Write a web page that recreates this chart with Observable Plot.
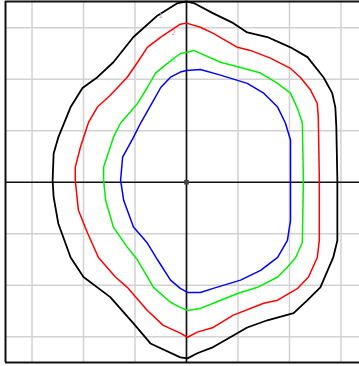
<!DOCTYPE html>
<html>
<head>
<meta charset="utf-8">
<script src="https://cdn.jsdelivr.net/npm/d3@7"></script>
<script src="https://cdn.jsdelivr.net/npm/@observablehq/plot@0.6"></script>
<style>
  html, body { margin: 0; padding: 0; background: #fff; }
  #chart svg { display: block; }
</style>
</head>
<body>
<div id="chart"></div>
<script>
// Contour curves (grid unit = 1), traced clockwise from top
const curve1 = [
  [0,3.51],[0.14,3.48],[0.52,3.28],[0.91,3.09],[1.18,2.91],[1.57,2.82],[2.02,2.62],[2.35,2.43],
  [2.66,2.04],[2.83,1.73],[2.89,1.46],[2.91,1.07],[2.93,0.04],[2.93,-1.13],[2.85,-1.46],[2.60,-2.04],
  [2.35,-2.29],[2.08,-2.54],[1.57,-2.68],[1.18,-2.82],[0.85,-3.01],[0.52,-3.20],[0.21,-3.32],[0.02,-3.42],
  [-0.12,-3.40],[-0.70,-3.13],[-1.03,-2.74],[-1.48,-2.23],[-2.00,-1.84],[-2.25,-1.46],[-2.49,-0.80],
  [-2.58,-0.29],[-2.60,0.04],[-2.58,0.56],[-2.49,0.87],[-2.25,1.46],[-2.02,1.83],[-1.73,2.04],
  [-1.42,2.33],[-1.03,2.82],[-0.56,3.24],[-0.17,3.48]
];
const curve2 = [
  [0,3.09],[0.27,3.01],[0.52,2.89],[0.99,2.62],[1.24,2.56],[1.63,2.41],[2.02,2.21],[2.21,2.04],
  [2.41,1.79],[2.54,1.53],[2.56,1.26],[2.58,0.04],[2.58,-1.13],[2.54,-1.46],[2.37,-1.84],[2.16,-2.06],
  [1.77,-2.29],[1.50,-2.35],[0.91,-2.58],[0.52,-2.82],[0.21,-2.91],[0.02,-3.01],[-0.12,-2.93],
  [-0.45,-2.78],[-0.76,-2.49],[-1.15,-2.04],[-1.38,-1.84],[-1.71,-1.46],[-1.92,-0.99],[-2.10,-0.54],
  [-2.16,0.04],[-2.16,0.29],[-2.06,0.68],[-1.90,1.17],[-1.73,1.46],[-1.48,1.69],[-1.15,2.04],
  [-0.95,2.33],[-0.76,2.62],[-0.50,2.82],[-0.12,3.07]
];
const curve3 = [
  [0,2.52],[0.14,2.56],[0.66,2.33],[1.05,2.23],[1.44,2.12],[1.77,1.92],[2.02,1.73],[2.17,1.40],
  [2.25,1.15],[2.27,0.04],[2.25,-1.17],[2.12,-1.46],[1.96,-1.65],[1.77,-1.84],[1.38,-2.04],[0.99,-2.16],
  [0.52,-2.35],[0.27,-2.45],[0.02,-2.49],[-0.12,-2.43],[-0.31,-2.33],[-0.64,-2.04],[-0.95,-1.51],
  [-1.15,-1.26],[-1.42,-0.87],[-1.57,-0.35],[-1.61,0.04],[-1.61,0.29],[-1.42,0.87],[-1.28,1.15],
  [-0.95,1.53],[-0.76,1.84],[-0.60,2.12],[-0.37,2.31],[-0.12,2.50]
];
const curve4 = [
  [0,2.17],[0.27,2.19],[0.66,2.08],[1.18,1.92],[1.50,1.73],[1.77,1.46],[1.92,1.15],[2.02,0.82],
  [2.02,0.04],[2.02,-0.74],[1.96,-1.13],[1.77,-1.46],[1.44,-1.71],[1.05,-1.90],[0.52,-2.06],[0.27,-2.14],
  [0.02,-2.14],[-0.12,-2.06],[-0.31,-1.90],[-0.56,-1.51],[-0.76,-1.18],[-1.03,-0.87],[-1.22,-0.35],
  [-1.28,0.04],[-1.24,0.49],[-1.03,0.87],[-0.89,1.15],[-0.64,1.59],[-0.50,1.84],[-0.31,2.04],[-0.12,2.14]
];
const curveColors = ["#000000", "#ff0000", "#00ee00", "#0000ff"];
const labelText = ["1", "2", "3"];
const labelX = [-0.50, -0.25, -0.25];
const labelY = [3.24, 2.91, 2.37];
const labelColors = ["#8f9fc8", "#ff8c8c", "#80e080"];
const gridTicks = [-3, -2, -1, 0, 1, 2, 3];
const xDomain = [-3.515, 3.36];
const yDomain = [-3.5, 3.51];

const curves = [curve1, curve2, curve3, curve4];
const labels = labelText.map((t, i) => ({t, x: labelX[i], y: labelY[i], c: labelColors[i]}));

const chart = Plot.plot({
  width: 359,
  height: 366,
  marginLeft: 5,
  marginRight: 0,
  marginTop: 1,
  marginBottom: 4,
  x: {domain: xDomain, axis: null},
  y: {domain: yDomain, axis: null},
  marks: [
    Plot.ruleX(gridTicks.filter(d => d !== 0), {stroke: "#d2d2d2", strokeWidth: 1.5}),
    Plot.ruleY(gridTicks.filter(d => d !== 0), {stroke: "#d2d2d2", strokeWidth: 1.5}),
    Plot.ruleX([xDomain[0]], {stroke: "#111", strokeWidth: 2}),
    Plot.ruleY([yDomain[0], yDomain[1]], {stroke: "#111", strokeWidth: 2}),
    Plot.ruleX([0], {stroke: "#111", strokeWidth: 1.7}),
    Plot.ruleY([0], {stroke: "#111", strokeWidth: 1.7}),
    ...curves.map((c, i) => Plot.line(c, {
      x: d => d[0], y: d => d[1], curve: "linear-closed",
      stroke: curveColors[i], strokeWidth: i === 0 ? 1.8 : 1.5
    })),
    Plot.dot([[0, 0]], {x: d => d[0], y: d => d[1], r: 2.6, fill: "#444", symbol: "square"}),
    Plot.text(labels, {x: "x", y: "y", text: "t", fill: "c", fontSize: 7, fontFamily: "DejaVu Sans"})
  ]
});
document.getElementById("chart").appendChild(chart);
</script>
</body>
</html>
